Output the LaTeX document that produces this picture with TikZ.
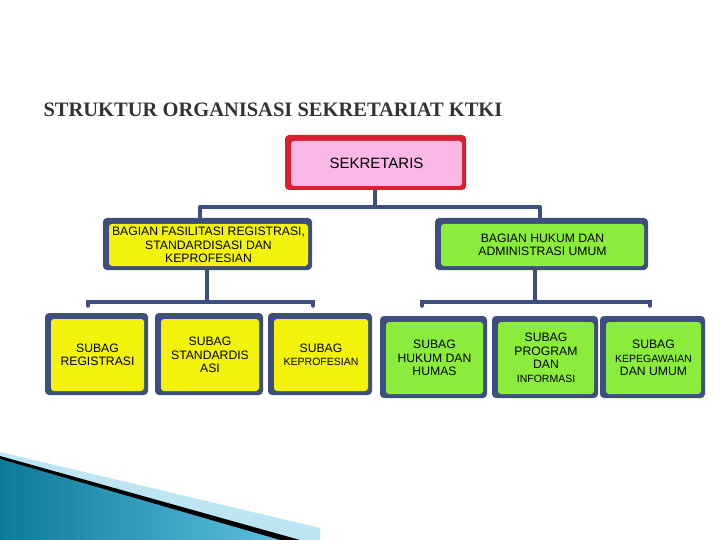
\documentclass[tikz,border=0pt]{standalone}
\usepackage{fontspec}
\setmainfont{Liberation Sans}
\newfontfamily\titlefont{Liberation Serif}
\definecolor{frame}{HTML}{3E4E7E}
\definecolor{ylw}{HTML}{F2F20A}
\definecolor{grn}{HTML}{8CEC3C}
\definecolor{pnk}{HTML}{F9B8E6}
\definecolor{redf}{HTML}{D8202E}
\definecolor{teal1}{HTML}{0C7A98}
\definecolor{teal2}{HTML}{5CC0DE}
\begin{document}
\begin{tikzpicture}[x=1pt,y=-1pt,
  txt/.style={align=center,font=\fontsize{12.2}{13.5}\selectfont,text=black},
  lnkline/.style={draw=frame,line width=3.5pt,line cap=round}]
\useasboundingbox (0,0) rectangle (720,540);
\fill[white] (0,0) rectangle (720,540);
% swoosh
\fill[teal2!40] (0,452) -- (320,528) -- (320,540) -- (0,540) -- cycle;
\fill[black] (0,456) -- (300,540) -- (0,540) -- cycle;
\shade[left color=teal1,right color=teal2] (0,459) -- (280,540) -- (0,540) -- cycle;
\node[anchor=west,font=\titlefont\bfseries\fontsize{20.5}{23}\selectfont,text=black!80] (title) at (40,110) {STRUKTUR ORGANISASI SEKRETARIAT KTKI};
\newcommand{\orgbox}[8]{% name x1 y1 x2 y2 framecolor fillcolor text
  \fill[#6,rounded corners=4pt] (#2,#3) rectangle (#4,#5);
  \fill[#7,rounded corners=3pt] (#2+6,#3+6) rectangle (#4-4,#5-4);
  \node[txt] (#1) at ({(#2+#4)/2+1},{(#3+#5)/2+1}) {#8};}
\draw[lnkline] (375,190) -- (375,207);
\draw[lnkline] (200,207) -- (540,207);
\draw[lnkline] (200,207) -- (200,220);
\draw[lnkline] (540,207) -- (540,220);
\draw[lnkline] (207,268) -- (207,302);
\draw[lnkline] (88,306) -- (88,302) -- (313,302) -- (313,306);
\draw[lnkline] (535,268) -- (535,302);
\draw[lnkline] (422,306) -- (422,302) -- (650,302) -- (650,306);
\orgbox{sek}{285}{135}{466}{190}{redf}{pnk}{\fontsize{15}{17}\selectfont SEKRETARIS}
\orgbox{bl}{103}{218}{312}{270}{frame}{ylw}{BAGIAN FASILITASI REGISTRASI,\\STANDARDISASI DAN\\KEPROFESIAN}
\orgbox{br}{435}{218}{648}{270}{frame}{grn}{BAGIAN HUKUM DAN\\ADMINISTRASI UMUM}
\orgbox{s1}{45}{313}{148}{395}{frame}{ylw}{SUBAG\\REGISTRASI}
\orgbox{s2}{155}{313}{263}{395}{frame}{ylw}{SUBAG\\STANDARDIS\\ASI}
\orgbox{s3}{268}{313}{372}{395}{frame}{ylw}{SUBAG\\{\fontsize{10.5}{13.5}\selectfont KEPROFESIAN}}
\orgbox{s4}{380}{316}{487}{398}{frame}{grn}{SUBAG\\HUKUM DAN\\HUMAS}
\orgbox{s5}{492}{316}{598}{398}{frame}{grn}{SUBAG\\PROGRAM\\DAN\\{\fontsize{10.5}{13.5}\selectfont INFORMASI}}
\orgbox{s6}{600}{316}{705}{398}{frame}{grn}{SUBAG\\{\fontsize{10.5}{13.5}\selectfont KEPEGAWAIAN}\\DAN UMUM}
\end{tikzpicture}
\end{document}
